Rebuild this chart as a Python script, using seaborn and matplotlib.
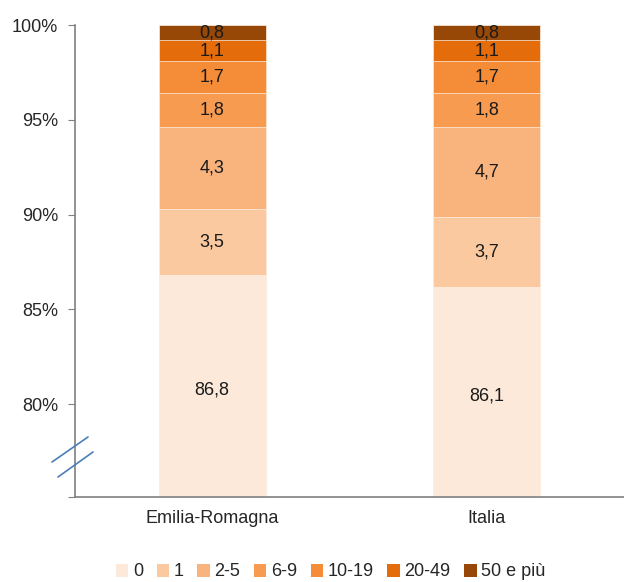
import matplotlib
matplotlib.use("Agg")
import matplotlib.pyplot as plt
import seaborn as sns
import numpy as np
import pandas as pd
from matplotlib.lines import Line2D
from matplotlib.patches import Patch

regions = ["Emilia-Romagna", "Italia"]
classes = ["0", "1", "2-5", "6-9", "10-19", "20-49", "50 e più"]
emilia = [86.8, 3.5, 4.3, 1.8, 1.7, 1.1, 0.8]
italia = [86.1, 3.7, 4.7, 1.8, 1.7, 1.1, 0.8]
colors = ["#fde9d9", "#fbc9a0", "#f9b47e", "#f79b50", "#f58c38", "#e46c0a", "#974806"]
y_ticks = [80, 85, 90, 95, 100]

sns.set_style("white")
plt.rcParams['font.family'] = ['Liberation Sans', 'DejaVu Sans']

fig = plt.figure(figsize=(6.24, 5.82), dpi=100)
ax = fig.add_axes([0.120, 0.146, 0.880, 0.811])

y_min = 75.1
vals = np.array([emilia, italia])
# grafico a barre 100%: ogni barra normalizzata al proprio totale
cum = np.cumsum(vals, axis=1) / vals.sum(axis=1, keepdims=True) * 100
share = vals / vals.sum(axis=1, keepdims=True) * 100

# cumulative bars drawn from top layer down, so each one covers the upper ones
for k in range(len(classes) - 1, -1, -1):
    df = pd.DataFrame({"regione": regions, "cum": cum[:, k]})
    sns.barplot(data=df, x="regione", y="cum", color=colors[k], width=0.39,
                saturation=1, ax=ax, edgecolor="#fdf0e6", linewidth=0.5)

for i in range(len(regions)):
    for k in range(len(classes)):
        lo = max(cum[i, k] - share[i, k], y_min)  # parte visibile del segmento
        mid = (lo + cum[i, k]) / 2
        if k == 0:
            mid -= 0.2
        ax.text(i, mid, f"{vals[i, k]:.1f}".replace(".", ","), ha="center",
                va="center", fontsize=13, color="#1a1a1a")

ax.set_ylim(y_min, 100)
ax.set_xlim(-0.5, 1.5)
ax.set_yticks([y_min] + y_ticks)
ax.set_yticklabels([""] + [f"{t}%" for t in y_ticks], fontsize=13)
ax.set_xticks([0, 1])
ax.set_xticklabels(regions, fontsize=13)
ax.set_xticks([-0.5, 0.5, 1.5], minor=True)
ax.set_xticklabels(["", "", ""], minor=True)
ax.tick_params(axis="x", which="major", length=0, pad=9)
ax.tick_params(axis="x", which="minor", length=5, color="#808080", direction="out")
ax.tick_params(axis="y", length=5, color="#808080", direction="out", left=True, pad=7)
ax.set_xlabel("")
ax.set_ylabel("")
for s in ["top", "right"]:
    ax.spines[s].set_visible(False)
for s in ["left", "bottom"]:
    ax.spines[s].set_color("#808080")
    ax.spines[s].set_linewidth(1.2)

# axis break marks
W, H = 624, 582
for (x0, y0, x1, y1) in [(52, 462, 88, 437), (58, 477, 93, 452)]:
    fig.add_artist(Line2D([x0 / W, x1 / W], [1 - y0 / H, 1 - y1 / H],
                          transform=fig.transFigure, color="#4a7ebb", lw=1.2))

handles = [Patch(facecolor=c, edgecolor="none") for c in colors]
fig.legend(handles, classes, loc="center", bbox_to_anchor=(0.530, 1 - 572 / H),
           ncol=7, frameon=False, fontsize=13, handlelength=0.7, handleheight=0.7,
           handletextpad=0.25, columnspacing=0.75, borderpad=0)

fig.savefig("out.png", dpi=100)
